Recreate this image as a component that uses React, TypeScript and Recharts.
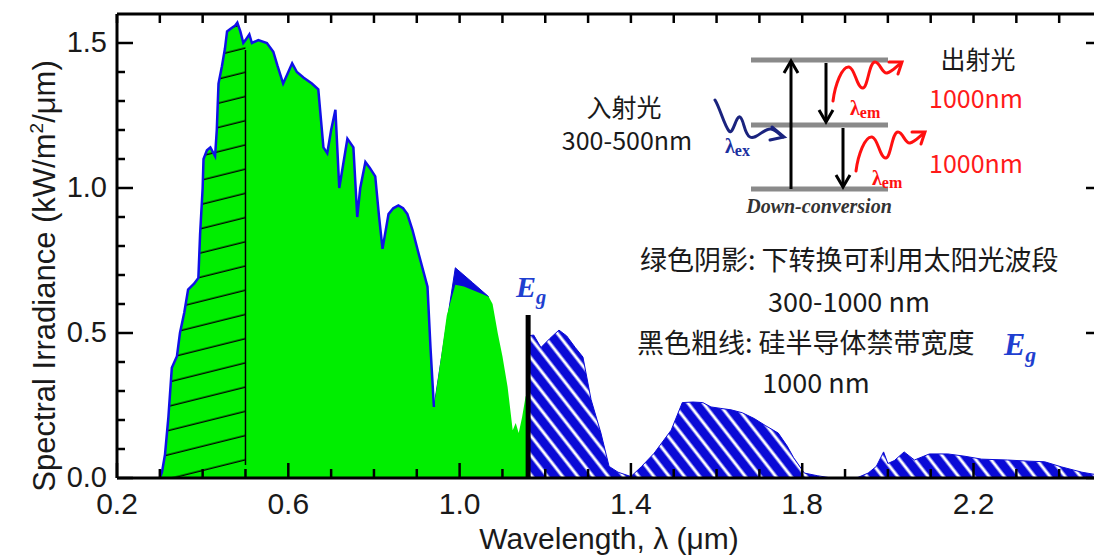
import React from "react";
import { Area, ComposedChart, Line, ReferenceLine, XAxis, YAxis } from "recharts";

// AM1.5 spectrum, visible part (green, left of the band gap)
const visWl = [
  0.3, 0.305, 0.312, 0.32, 0.328, 0.34, 0.347, 0.357, 0.366, 0.38,
  0.39, 0.394, 0.4, 0.402, 0.41, 0.418, 0.429, 0.433, 0.437, 0.445,
  0.452, 0.457, 0.466, 0.476, 0.481, 0.488, 0.495, 0.5, 0.509, 0.515,
  0.53, 0.55, 0.565, 0.575, 0.588, 0.6, 0.609, 0.62, 0.636, 0.655,
  0.67, 0.676, 0.682, 0.691, 0.7, 0.71, 0.719, 0.728, 0.738, 0.752,
  0.761, 0.768, 0.78, 0.79, 0.803, 0.812, 0.82, 0.834, 0.845, 0.857,
  0.868, 0.878, 0.89, 0.905, 0.925, 0.932, 0.94, 0.955, 0.97, 0.99,
  1.01, 1.03, 1.05, 1.068, 1.077, 1.089, 1.1, 1.112, 1.124, 1.131,
  1.138, 1.146, 1.154, 1.16,
];
const visIrr = [
  0, 0.02, 0.08, 0.21, 0.38, 0.42, 0.5, 0.57, 0.65, 0.67,
  0.69, 0.84, 1.0, 1.1, 1.13, 1.14, 1.11, 1.2, 1.36, 1.42,
  1.48, 1.54, 1.55, 1.56, 1.57, 1.54, 1.5, 1.51, 1.53, 1.5,
  1.51, 1.5, 1.47, 1.42, 1.36, 1.4, 1.43, 1.4, 1.38, 1.36,
  1.34, 1.24, 1.14, 1.12, 1.2, 1.27, 1.0, 1.08, 1.17, 1.14,
  0.9, 1.0, 1.09, 1.07, 1.04, 0.9, 0.79, 0.91, 0.93, 0.94,
  0.93, 0.91, 0.855, 0.77, 0.66, 0.45, 0.245, 0.4, 0.56, 0.666,
  0.66, 0.648, 0.636, 0.625, 0.6, 0.5, 0.42, 0.315, 0.165, 0.19,
  0.155, 0.21, 0.28, 0.3,
];

// blue peak showing above the green near 1.0 um
const peakWl = [0.94, 0.99, 1.03, 1.068];
const peakIrr = [0.245, 0.725, 0.674, 0.625];

// infrared part (blue hatched, right of the band gap)
const irWl = [
  1.16, 1.173, 1.19, 1.21, 1.232, 1.25, 1.27, 1.288, 1.307, 1.33,
  1.349, 1.37, 1.4, 1.425, 1.454, 1.494, 1.52, 1.545, 1.568, 1.587,
  1.61, 1.634, 1.66, 1.688, 1.715, 1.744, 1.765, 1.78, 1.805, 1.835,
  1.868, 1.9, 1.93, 1.954, 1.973, 1.99, 2.0, 2.015, 2.038, 2.062,
  2.097, 2.14, 2.18, 2.219, 2.28, 2.33, 2.366, 2.406, 2.453, 2.5,
];
const irIrr = [
  0.49, 0.493, 0.45, 0.48, 0.51, 0.49, 0.45, 0.417, 0.27, 0.155,
  0.04, 0.02, 0.005, 0.04, 0.085, 0.165, 0.26, 0.262, 0.26, 0.245,
  0.24, 0.235, 0.225, 0.205, 0.18, 0.155, 0.11, 0.07, 0.017, 0.008,
  0, 0, 0.002, 0.017, 0.04, 0.09, 0.05, 0.06, 0.09, 0.062,
  0.083, 0.083, 0.075, 0.065, 0.062, 0.058, 0.056, 0.038, 0.02, 0.008,
];

const xTicks = [
  0.2, 0.3, 0.4, 0.5, 0.6, 0.7, 0.8, 0.9, 1.0, 1.1, 1.2, 1.3,
  1.4, 1.5, 1.6, 1.7, 1.8, 1.9, 2.0, 2.1, 2.2, 2.3, 2.4,
];
const xLabels = [0.2, 0.6, 1.0, 1.4, 1.8, 2.2];
const yTicks = [
  0, 0.1, 0.2, 0.3, 0.4, 0.5, 0.6, 0.7, 0.8, 0.9, 1.0, 1.1, 1.2, 1.3, 1.4, 1.5,
];
const yLabels = [0, 0.5, 1.0, 1.5];

const EG = 1.16; // band gap marker
const EG_TOP = 0.562;
const HATCH_END = 0.5; // 300-500 nm excitation band
const HATCH_SPAN = [0.045, 1.476];
const OUTLINE_END = 0.94;

type Row = {
  x: number;
  vis?: number;
  edge?: number;
  hatch?: number;
  peak?: number;
  ir?: number;
};

const rows: Row[] = [];
visWl.forEach((x, i) =>
  rows.push({
    x,
    vis: visIrr[i],
    edge: x <= OUTLINE_END ? visIrr[i] : undefined,
    hatch: x <= HATCH_END ? visIrr[i] : undefined,
  })
);
peakWl.forEach((x, i) => rows.push({ x, peak: peakIrr[i] }));
irWl.forEach((x, i) => rows.push({ x, ir: irIrr[i] }));
rows.sort((a, b) => a.x - b.x);

const SANS = "'Liberation Sans', Arial, sans-serif";
const CJK = "'Noto Sans CJK SC', 'Noto Sans', sans-serif";
const SERIF = "'Liberation Serif', 'Times New Roman', serif";
const GREEN = "#00ee00";
const BLUE = "#0a0ad6";

const isIn = (v: number, list: number[]) =>
  list.some((l) => Math.abs(l - v) < 1e-6);

function BottomTick(props: any) {
  const { x, y, payload } = props;
  const major = isIn(payload.value, xLabels);
  return (
    <g>
      <line x1={x} x2={x} y1={y} y2={y - (major ? 15 : 9)} stroke="#000" strokeWidth={2.5} />
      {major && (
        <text x={x} y={y + 36} textAnchor="middle" fontSize={30} fontFamily={SANS} fill="#1a1a1a">
          {payload.value.toFixed(1)}
        </text>
      )}
    </g>
  );
}

function TopTick(props: any) {
  const { x, y } = props;
  return <line x1={x} x2={x} y1={y} y2={y + 9} stroke="#000" strokeWidth={2.5} />;
}

function LeftTick(props: any) {
  const { x, y, payload } = props;
  const major = isIn(payload.value, yLabels);
  return (
    <g>
      <line x1={x} x2={x + (major ? 16 : 8)} y1={y} y2={y} stroke="#000" strokeWidth={2.5} />
      {major && (
        <text x={x - 10} y={y + 9} textAnchor="end" fontSize={29} fontFamily={SANS} fill="#1a1a1a">
          {payload.value.toFixed(1)}
        </text>
      )}
    </g>
  );
}

function RightTick(props: any) {
  const { x, y, payload } = props;
  const major = isIn(payload.value, yLabels);
  return <line x1={x} x2={x - (major ? 16 : 8)} y1={y} y2={y} stroke="#000" strokeWidth={2.5} />;
}

function YTitle(props: any) {
  const vb = props.viewBox || { x: 0, y: 14, width: 117, height: 464 };
  const cx = vb.x + 55;
  const cy = vb.y + vb.height / 2 + 30;
  return (
    <text
      x={cx}
      y={cy}
      transform={`rotate(-90, ${cx}, ${cy})`}
      textAnchor="middle"
      fontSize={31}
      fontFamily={SANS}
      fill="#1a1a1a"
    >
      Spectral Irradiance (kW/m
      <tspan fontSize={19} dy={-12}>2</tspan>
      <tspan dy={12}>/μm)</tspan>
    </text>
  );
}

function XTitle(props: any) {
  const vb = props.viewBox || { x: 117, y: 478, width: 985, height: 80 };
  return (
    <text x={609} y={vb.y + 71} textAnchor="middle" fontSize={30} fontFamily={SANS} fill="#1a1a1a">
      Wavelength, λ (μm)
    </text>
  );
}

function Eg({ x, y, size }: { x: number; y: number; size: number }) {
  return (
    <text x={x} y={y} fontFamily={SERIF} fontStyle="italic" fontWeight="bold" fontSize={size} fill="#1f3fd0">
      E<tspan fontSize={size * 0.68} dy={size * 0.22}>g</tspan>
    </text>
  );
}

function Lambda({ x, y, sub, color }: { x: number; y: number; sub: string; color: string }) {
  return (
    <text x={x} y={y} fontFamily={SERIF} fontWeight="bold" fontSize={20} fill={color}>
      λ<tspan fontSize={16} dy={3}>{sub}</tspan>
    </text>
  );
}

const redWave =
  "M833,101 C835,85 842,66 849,67 C855,68 857,89 863,88 C868,87 869,62 875,62 C880,62 882,74 887,73 C892,72 896,67 901,63";
const redHead = "M889,62 L902,62 L898,74";

function Overlay() {
  const t = { fontFamily: CJK, fontSize: 27, fill: "#1a1a1a" };
  const s = { ...t, fontSize: 25 };
  const red = { ...s, fill: "#ff1a1a" };
  return (
    <svg
      width={1094}
      height={558}
      style={{ position: "absolute", left: 0, top: 0, pointerEvents: "none" }}
    >
      {/* energy levels */}
      {[60, 125, 189].map((ly) => (
        <line key={ly} x1={751} x2={888} y1={ly} y2={ly} stroke="#8a8a8a" strokeWidth={5} />
      ))}
      <g stroke="#000" strokeWidth={3} fill="none">
        <line x1={791} x2={791} y1={189} y2={62} />
        <path d="M784,73 L791,61 L798,73" />
        <line x1={826} x2={826} y1={63} y2={121} />
        <path d="M819,110 L826,122 L833,110" />
        <line x1={843} x2={843} y1={128} y2={186} />
        <path d="M836,175 L843,187 L850,175" />
      </g>
      <g stroke="#1a237e" strokeWidth={3} fill="none" strokeLinecap="round">
        <path d="M715,100 C720,108 724,125 729,131 C733,136 736,115 740,117 C744,119 744,134 750,137 C756,140 764,128 771,129 C776,130 779,134 783,137" />
        <path d="M772,127 L784,137 L770,140" />
      </g>
      <g stroke="#ff1010" strokeWidth={3} fill="none" strokeLinecap="round">
        <path d={redWave} />
        <path d={redHead} />
        <g transform="translate(23,70)">
          <path d={redWave} />
          <path d={redHead} />
        </g>
      </g>
      <Lambda x={725} y={153} sub="ex" color="#1a2fa0" />
      <Lambda x={850} y={115} sub="em" color="#ff1010" />
      <Lambda x={872} y={185} sub="em" color="#ff1010" />
      <text x={819} y={213} textAnchor="middle" fontFamily={SERIF} fontStyle="italic" fontWeight="bold" fontSize={20} fill="#333">
        Down-conversion
      </text>

      <text x={624} y={117} textAnchor="middle" {...s}>入射光</text>
      <text x={627} y={150} textAnchor="middle" {...s}>300-500nm</text>
      <text x={978} y={69} textAnchor="middle" {...s}>出射光</text>
      <text x={976} y={108} textAnchor="middle" {...red}>1000nm</text>
      <text x={976} y={173} textAnchor="middle" {...red}>1000nm</text>

      <text x={640} y={270} {...t}>绿色阴影: 下转换可利用太阳光波段</text>
      <text x={849} y={312} textAnchor="middle" {...t}>300-1000 nm</text>
      <text x={637} y={353} {...t}>黑色粗线: 硅半导体禁带宽度</text>
      <text x={816} y={393} textAnchor="middle" {...t}>1000 nm</text>
      <Eg x={1004} y={355} size={32} />
      <Eg x={516} y={297} size={30} />
    </svg>
  );
}

export default function App() {
  return (
    <div
      style={{
        position: "absolute",
        left: 0,
        top: 0,
        width: 1094,
        height: 558,
        overflow: "hidden",
        background: "#fff",
      }}
    >
      <ComposedChart
        width={1104}
        height={558}
        data={rows}
        margin={{ top: 4, right: 0, bottom: 0, left: 0 }}
      >
        <defs>
          <pattern
            id="blackHatch"
            width={20}
            height={23.5}
            patternUnits="userSpaceOnUse"
            patternTransform="rotate(-14)"
          >
            <line x1={0} x2={20} y1={12} y2={12} stroke="#000" strokeWidth={1.4} />
          </pattern>
          <pattern
            id="blueHatch"
            width={12}
            height={12}
            patternUnits="userSpaceOnUse"
            patternTransform="rotate(-38)"
          >
            <rect width={12} height={12} fill={BLUE} />
            <line x1={6} x2={6} y1={0} y2={12} stroke="#fff" strokeWidth={3} />
          </pattern>
        </defs>
        <XAxis
          type="number"
          dataKey="x"
          domain={[0.2, 2.5]}
          ticks={xTicks}
          interval={0}
          allowDataOverflow
          height={80}
          tickSize={0}
          tickMargin={0}
          tickLine={false}
          axisLine={{ stroke: "#000", strokeWidth: 3 }}
          tick={<BottomTick />}
          label={<XTitle />}
        />
        <XAxis
          xAxisId="top"
          orientation="top"
          type="number"
          dataKey="x"
          domain={[0.2, 2.5]}
          ticks={xTicks}
          interval={0}
          allowDataOverflow
          height={10}
          tickSize={0}
          tickMargin={0}
          tickLine={false}
          axisLine={{ stroke: "#000", strokeWidth: 3 }}
          tick={<TopTick />}
        />
        <YAxis
          type="number"
          domain={[0, 1.6]}
          ticks={yTicks}
          interval={0}
          allowDataOverflow
          width={117}
          tickSize={0}
          tickMargin={0}
          tickLine={false}
          axisLine={{ stroke: "#000", strokeWidth: 3 }}
          tick={<LeftTick />}
          label={<YTitle />}
        />
        <YAxis
          yAxisId="right"
          orientation="right"
          type="number"
          domain={[0, 1.6]}
          ticks={yTicks}
          interval={0}
          allowDataOverflow
          width={2}
          tickSize={0}
          tickMargin={0}
          tickLine={false}
          axisLine={{ stroke: "#000", strokeWidth: 3 }}
          tick={<RightTick />}
        />
        <Area
          dataKey="peak"
          type="linear"
          connectNulls
          stroke={BLUE}
          strokeWidth={1}
          fill={BLUE}
          fillOpacity={1}
          isAnimationActive={false}
        />
        <Area
          dataKey="vis"
          type="linear"
          connectNulls
          stroke="none"
          fill={GREEN}
          fillOpacity={1}
          isAnimationActive={false}
        />
        <Area
          dataKey="hatch"
          type="linear"
          connectNulls
          stroke="none"
          fill="url(#blackHatch)"
          fillOpacity={1}
          isAnimationActive={false}
        />
        <Area
          dataKey="ir"
          type="linear"
          connectNulls
          stroke={BLUE}
          strokeWidth={1}
          fill="url(#blueHatch)"
          fillOpacity={1}
          isAnimationActive={false}
        />
        <Line
          dataKey="edge"
          type="linear"
          connectNulls
          stroke="#1010e8"
          strokeWidth={2.5}
          dot={false}
          activeDot={false}
          isAnimationActive={false}
        />
        <ReferenceLine
          segment={[
            { x: HATCH_END, y: HATCH_SPAN[0] },
            { x: HATCH_END, y: HATCH_SPAN[1] },
          ]}
          stroke="#000"
          strokeWidth={1.5}
        />
        <ReferenceLine
          segment={[
            { x: EG, y: 0 },
            { x: EG, y: EG_TOP },
          ]}
          stroke="#000"
          strokeWidth={5}
        />
      </ComposedChart>
      <Overlay />
    </div>
  );
}
